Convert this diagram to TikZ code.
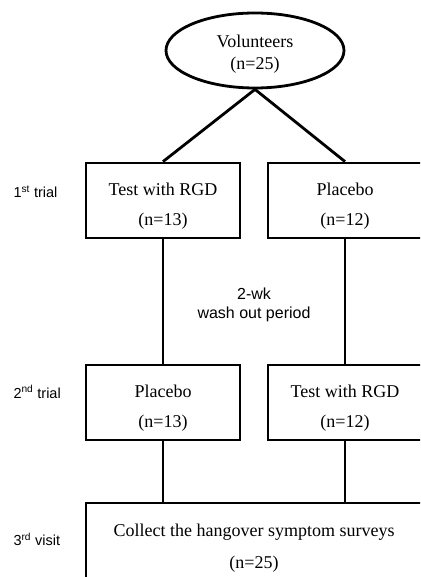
\documentclass[tikz,border=0pt]{standalone}
\usepackage{fontspec}
\setmainfont{Liberation Serif}
\newfontfamily\labelfont{Liberation Sans}
\usetikzlibrary{positioning,shapes.geometric}
\newcommand{\topgap}[1]{\rule{0pt}{#1}}
\tikzset{trialbox/.style={rectangle, draw=black, line width=2.8pt, minimum width=154pt, minimum height=75pt, align=center, font=\fontsize{18}{30}\selectfont},
startnode/.style={ellipse, draw=black, line width=2.8pt, minimum width=178pt, minimum height=75pt, align=center, font=\fontsize{18}{22}\selectfont},
sidelabel/.style={anchor=west, font=\labelfont\fontsize{14.5}{17}\selectfont},}

\begin{document}
\begin{tikzpicture}[node distance=182pt, x=1pt, y=1pt]
\useasboundingbox (0,0) rectangle (420,-577);
\clip (0,0) rectangle (420,-577);
\node [startnode] (vol) at (255,-50.5) {\topgap{19pt}Volunteers\\(n=25)};
\node [trialbox] (t1a) at (163,-200.5) {\topgap{23pt}Test with RGD\\(n=13)};
\node [trialbox] (t1b) [right of=t1a] {\topgap{23pt}Placebo\\(n=12)};
\node [trialbox] (t2a) at (163,-402.5) {\topgap{23pt}Placebo\\(n=13)};
\node [trialbox] (t2b) [right of=t2a] {\topgap{23pt}Test with RGD\\(n=12)};
\node [trialbox, minimum width=336pt, minimum height=86pt, font=\fontsize{18}{32}\selectfont] (visit) at (254,-546) {\topgap{17pt}Collect the hangover symptom surveys\\(n=25)};
\node [sidelabel] (lab1) at (10,-192) {1\textsuperscript{st} trial};
\node [sidelabel] (lab2) at (10,-392) {2\textsuperscript{nd} trial};
\node [sidelabel] (lab3) at (10,-539) {3\textsuperscript{rd} visit};
\node [font=\labelfont\fontsize{16}{19}\selectfont, align=center] (wash) at (254,-305) {2-wk\\wash out period};
\draw[line width=2.8pt] (vol.south) -- (t1a.north);
\draw[line width=2.8pt] (vol.south) -- (t1b.north);
\draw[line width=2.8pt] (t1a) -- (t2a);
\draw[line width=2.8pt] (t1b) -- (t2b);
\draw[line width=2.8pt] (t2a.south) -- (t2a.south |- visit.north);
\draw[line width=2.8pt] (t2b.south) -- (t2b.south |- visit.north);
\end{tikzpicture}
\end{document}
